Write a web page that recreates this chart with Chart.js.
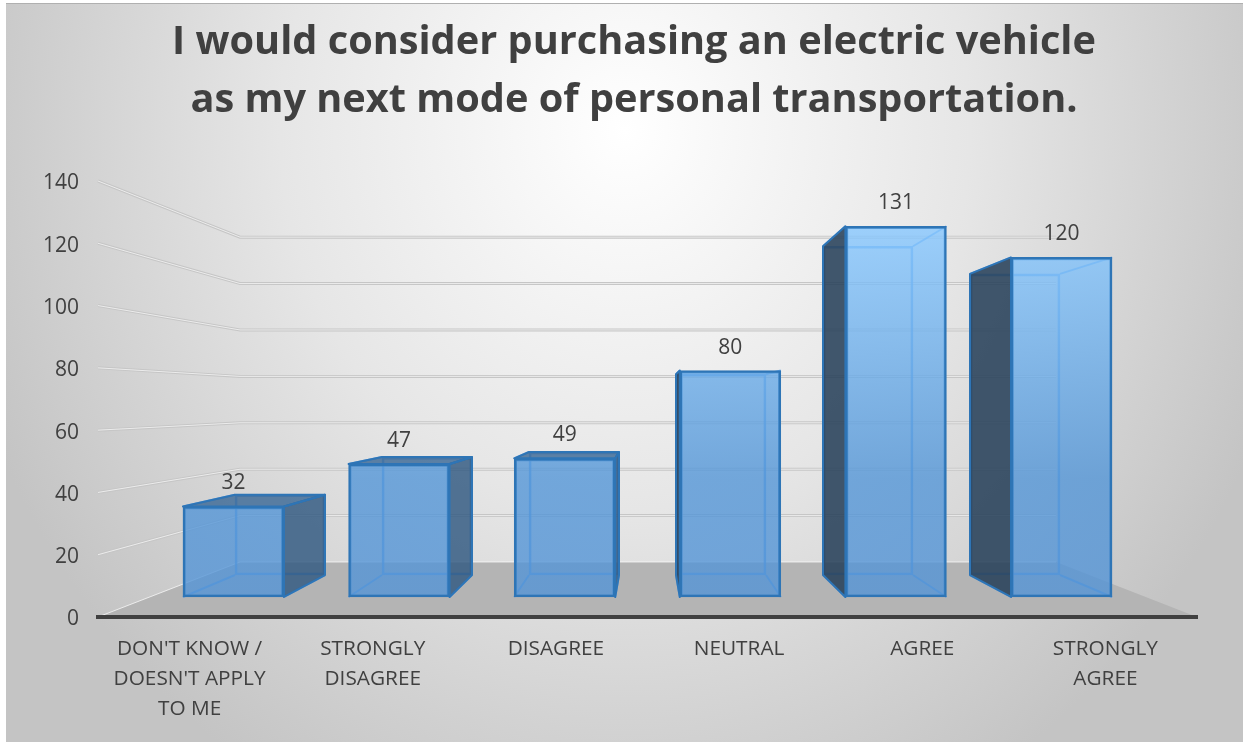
<!DOCTYPE html>
<html>
<head>
<meta charset="utf-8">
<title>Electric vehicle survey</title>
<script src="https://cdn.jsdelivr.net/npm/chart.js@4/dist/chart.umd.js"></script>
<style>
  html, body { margin: 0; padding: 0; background: #fff; }
  canvas { display: block; }
</style>
</head>
<body>
<canvas id="evChart" width="1244" height="742"></canvas>
<script>
const categories = [
    ["DON'T KNOW /", "DOESN'T APPLY", "TO ME"],
    ["STRONGLY", "DISAGREE"],
    "DISAGREE",
    "NEUTRAL",
    "AGREE",
    ["STRONGLY", "AGREE"]
];
const responses = [32, 47, 49, 80, 131, 120];
const titleLines = [
    "I would consider purchasing an electric vehicle",
    "as my next mode of personal transportation."
];
const gridValues = [0, 20, 40, 60, 80, 100, 120, 140];

const TEXT = '#404040';
const FONT = '"Open Sans", sans-serif';

// The picture is a 3D column chart, so each depth plane has its own hidden scale:
// y/x = front of the floor, yBar/xBar = bar fronts, yBack/xBack = bar backs, yWall = back wall
const wallInsetLeft = 142;
const wallInsetRight = 141;

function polygon(ctx, pts) {
    ctx.beginPath();
    pts.forEach((p, i) => i ? ctx.lineTo(p[0], p[1]) : ctx.moveTo(p[0], p[1]));
    ctx.closePath();
}

const scenePlugin = {
    id: 'scene',
    // panel, floor and grid lines
    beforeDraw(chart) {
        const ctx = chart.ctx;
        const area = chart.chartArea;
        const y = chart.scales.y;
        const wall = chart.scales.yWall;
        const wallLeft = area.left + wallInsetLeft;
        const wallRight = area.right - wallInsetRight;

        ctx.save();
        ctx.fillStyle = '#fff';
        ctx.fillRect(0, 0, chart.width, chart.height);

        // grey radial panel
        ctx.save();
        ctx.beginPath();
        ctx.rect(6, 4, chart.width - 7, chart.height - 4);
        ctx.clip();
        ctx.translate(625, 130);
        ctx.scale(1, 1.1);
        const bg = ctx.createRadialGradient(0, 0, 0, 0, 0, 690);
        bg.addColorStop(0, '#ffffff');
        bg.addColorStop(0.5, '#e6e6e6');
        bg.addColorStop(1, '#c4c4c4');
        ctx.fillStyle = bg;
        ctx.fillRect(-800, -300, 1600, 1100);
        ctx.restore();
        ctx.fillStyle = '#b0b0b0';
        ctx.fillRect(6, 3, chart.width - 7, 1);

        // floor
        polygon(ctx, [
            [area.left, area.bottom], [area.right, area.bottom],
            [wallRight, wall.getPixelForValue(0)], [wallLeft, wall.getPixelForValue(0)]
        ]);
        ctx.fillStyle = '#b4b4b4';
        ctx.fill();

        // grid lines run along the left wall, then the back wall
        gridValues.forEach(v => {
            const yFront = y.getPixelForValue(v);
            const yWall = wall.getPixelForValue(v);
            ctx.beginPath();
            ctx.moveTo(area.left, yFront);
            ctx.lineTo(wallLeft, yWall);
            ctx.lineTo(wallRight, yWall);
            ctx.lineWidth = 3;
            ctx.strokeStyle = v === 0 ? 'rgba(0,0,0,0)' : '#c6c6c6';
            ctx.stroke();
            ctx.lineWidth = 1;
            ctx.strokeStyle = v === 0 ? 'rgba(255,255,255,.7)' : '#ececec';
            ctx.stroke();
        });
        ctx.restore();
    },
    // side and top faces sit between the back and the front of each bar
    afterDatasetDraw(chart, args) {
        if (args.index !== 1) return;
        const ctx = chart.ctx;
        const fronts = chart.getDatasetMeta(0).data;
        const backs = chart.getDatasetMeta(1).data;

        ctx.save();
        ctx.lineJoin = 'round';
        fronts.forEach((f, i) => {
            const b = backs[i];
            const fl = f.x - f.width / 2, fr = f.x + f.width / 2;
            const bl = b.x - b.width / 2, br = b.x + b.width / 2;

            // edges that recede from the front corners
            ctx.strokeStyle = 'rgba(70,150,235,.75)';
            ctx.lineWidth = 2;
            [[fl, f.base, bl, b.base], [fr, f.base, br, b.base], [fl, f.y, bl, b.y], [fr, f.y, br, b.y]].forEach(l => {
                ctx.beginPath();
                ctx.moveTo(l[0], l[1]);
                ctx.lineTo(l[2], l[3]);
                ctx.stroke();
            });

            ctx.strokeStyle = '#2e75b6';
            if (bl < fl) {
                polygon(ctx, [[fl, f.y], [bl, b.y], [bl, b.base], [fl, f.base]]);
                ctx.fillStyle = 'rgba(40,65,90,.88)';
                ctx.fill();
                ctx.stroke();
            }
            if (br > fr) {
                polygon(ctx, [[fr, f.y], [br, b.y], [br, b.base], [fr, f.base]]);
                ctx.fillStyle = 'rgba(48,88,128,.82)';
                ctx.fill();
                ctx.stroke();
            }
            if (b.y < f.y) {
                polygon(ctx, [[fl, f.y], [bl, b.y], [br, b.y], [fr, f.y]]);
                ctx.fillStyle = 'rgba(60,105,150,.82)';
                ctx.fill();
                ctx.stroke();
            }
        });
        ctx.restore();
    },
    // value labels
    afterDatasetsDraw(chart) {
        const ctx = chart.ctx;
        ctx.save();
        ctx.fillStyle = TEXT;
        ctx.font = '21px ' + FONT;
        ctx.textAlign = 'center';
        ctx.textBaseline = 'middle';
        chart.getDatasetMeta(0).data.forEach((bar, i) => {
            ctx.fillText(responses[i], bar.x, bar.y - 23);
        });
        ctx.restore();
    }
};

function frontFill(context) {
    const chart = context.chart;
    const bar = chart.scales.yBar;
    const top = bar.getPixelForValue(131);
    const base = bar.getPixelForValue(0);
    // scales have no size yet on the first pass
    if (!Number.isFinite(top) || !Number.isFinite(base)) return 'rgba(110,170,230,.8)';
    const g = chart.ctx.createLinearGradient(0, top, 0, base);
    g.addColorStop(0, 'rgba(136,200,255,.8)');
    g.addColorStop(0.68, 'rgba(84,150,215,.8)');
    g.addColorStop(1, 'rgba(84,148,214,.8)');
    return g;
}

function hiddenScale(axis, min, max) {
    return { type: 'linear', axis: axis, display: false, min: min, max: max, offset: false, grid: { display: false } };
}

new Chart(document.getElementById('evChart'), {
    type: 'bar',
    data: {
        labels: categories,
        datasets: [
            {
                label: 'front',
                data: responses.map((v, i) => ({ x: i, y: v })),
                xAxisID: 'xBar',
                yAxisID: 'yBar',
                order: 1,
                grouped: false,
                barThickness: 101,
                backgroundColor: frontFill,
                borderColor: '#2e75b6',
                borderWidth: 2.5,
                borderSkipped: false
            },
            {
                label: 'back',
                data: responses.map((v, i) => ({ x: i, y: v })),
                xAxisID: 'xBack',
                yAxisID: 'yBack',
                order: 2,
                grouped: false,
                barThickness: 90,
                backgroundColor: 'rgba(0,0,0,0)',
                borderColor: 'rgba(70,150,235,.75)',
                borderWidth: 2,
                borderSkipped: false
            }
        ]
    },
    options: {
        responsive: false,
        animation: false,
        layout: { padding: { left: 24, right: 0, top: 0, bottom: 0 } },
        plugins: {
            legend: { display: false },
            tooltip: { enabled: false },
            title: {
                display: true,
                text: titleLines,
                color: TEXT,
                font: { family: FONT, size: 39.7, weight: 'bold', lineHeight: 58 / 39.7 },
                padding: { top: 14, bottom: 51 }
            }
        },
        scales: {
            x: {
                type: 'category',
                offset: true,
                grid: { display: false, drawTicks: false },
                border: { display: true, color: TEXT, width: 4 },
                afterFit: scale => { scale.height = 125; },
                ticks: {
                    color: TEXT,
                    font: { family: FONT, size: 20.8, lineHeight: 30 / 20.8 },
                    padding: 17,
                    maxRotation: 0,
                    autoSkip: false
                }
            },
            y: {
                type: 'linear',
                min: 0,
                max: 140,
                grid: { display: false, drawTicks: false },
                border: { display: false },
                afterFit: scale => { scale.width = 74; },
                ticks: {
                    stepSize: 20,
                    color: TEXT,
                    font: { family: FONT, size: 21 },
                    padding: 19,
                    labelOffset: 2.5
                }
            },
            // empty right axis, keeps the plot off the right edge while the title stays centred on the page
            yMargin: {
                type: 'linear',
                position: 'right',
                grid: { display: false, drawTicks: false },
                border: { display: false },
                ticks: { display: false },
                afterFit: scale => { scale.width = 47; }
            },
            xBar: hiddenScale('x', -0.818, 5.818),
            xBack: hiddenScale('x', -1.238, 6.238),
            yBar: hiddenScale('y', -7.07, 146.99),
            yBack: hiddenScale('y', -16.73, 157),
            yWall: hiddenScale('y', -23.7, 164.2)
        }
    },
    plugins: [scenePlugin]
});
</script>
</body>
</html>
